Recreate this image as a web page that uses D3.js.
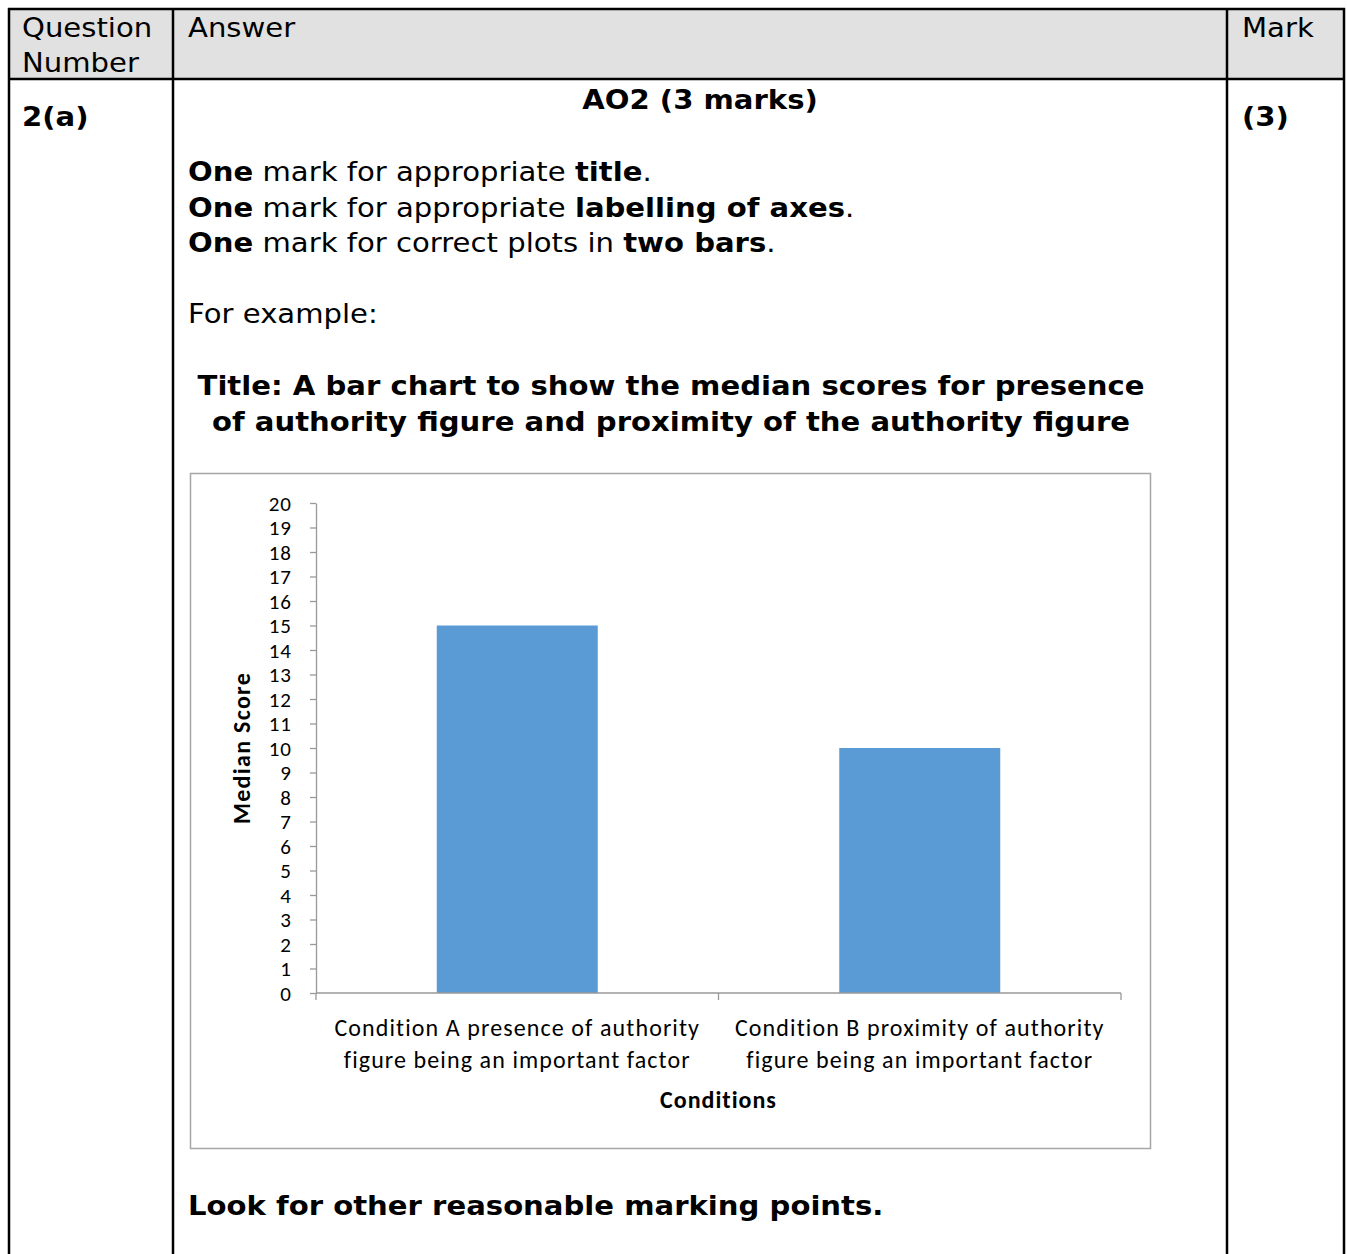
<!DOCTYPE html>
<html>
<head>
<meta charset="utf-8">
<script src="https://cdn.jsdelivr.net/npm/d3@7"></script>
<style>
  body { margin: 0; background: #fff; }
  svg { display: block; }
  .doc { font-family: "DejaVu Sans", Verdana, sans-serif; fill: #000; }
  .chart text { font-family: Carlito, Lato, "Open Sans", sans-serif; fill: #000; }
</style>
</head>
<body>
<svg id="page" width="1347" height="1254"></svg>
<script>
// chart data
var categories = [
  ["Condition A presence of authority", "figure being an important factor"],
  ["Condition B proximity of authority", "figure being an important factor"]
];
var medians = [15, 10];
var yTicks = d3.range(0, 21);

var svg = d3.select("#page");

// table frame
var tbl = svg.append("g");
tbl.append("rect").attr("x", 9).attr("y", 9).attr("width", 1336).attr("height", 70).attr("fill", "#e1e1e1");
var lines = [
  [9, 8, 9, 1254], [173, 8, 173, 1254], [1227, 8, 1227, 1254], [1344, 8, 1344, 1254],
  [8, 9, 1345, 9], [8, 79, 1345, 79]
];
tbl.selectAll("line").data(lines).enter().append("line")
  .attr("x1", d => d[0]).attr("y1", d => d[1]).attr("x2", d => d[2]).attr("y2", d => d[3])
  .attr("stroke", "#000").attr("stroke-width", 2.5);

// Verdana-like text: DejaVu Sans stretched a little wider
var doc = svg.append("g").attr("class", "doc").style("font-size", "26px");
function put(x, y, txt, bold, anchor) {
  return doc.append("text")
    .attr("transform", "translate(" + x + "," + y + ") scale(1.12,1)")
    .attr("text-anchor", anchor || "start")
    .attr("font-weight", bold ? "bold" : "normal")
    .text(txt);
}
put(22, 37, "Question");
put(22, 72, "Number");
put(188, 37, "Answer");
put(1242, 37, "Mark");
put(22, 126, "2(a)", true);
put(1242, 126, "(3)", true);
put(700, 109, "AO2 (3 marks)", true, "middle");

var bullets = [
  [["One", true], [" mark for appropriate ", false], ["title", true], [".", false]],
  [["One", true], [" mark for appropriate ", false], ["labelling of axes", true], [".", false]],
  [["One", true], [" mark for correct plots in ", false], ["two bars", true], [".", false]]
];
bullets.forEach(function (parts, i) {
  var t = put(188, 181 + i * 35.5, "");
  parts.forEach(function (p) {
    t.append("tspan").attr("font-weight", p[1] ? "bold" : "normal").text(p[0]);
  });
});
put(188, 323, "For example:");
put(671, 395, "Title: A bar chart to show the median scores for presence", true, "middle");
put(671, 431, "of authority figure and proximity of the authority figure", true, "middle");
put(188, 1215, "Look for other reasonable marking points.", true);

// chart
var chart = svg.append("g").attr("class", "chart");
chart.append("rect").attr("x", 190.5).attr("y", 473.5).attr("width", 960).attr("height", 675)
  .attr("fill", "#fff").attr("stroke", "#a6a6a6").attr("stroke-width", 1.5);

var x0 = 316, x1 = 1121, yBottom = 993, yTop = 503;
var x = d3.scaleBand().domain(d3.range(categories.length)).range([x0, x1]).paddingInner(0.6).paddingOuter(0.3);
var y = d3.scaleLinear().domain([0, 20]).range([yBottom, yTop]);

chart.selectAll("rect.bar").data(medians).enter().append("rect").attr("class", "bar")
  .attr("x", (d, i) => x(i)).attr("width", x.bandwidth())
  .attr("y", d => y(d)).attr("height", d => y(0) - y(d))
  .attr("fill", "#5b9bd5");

var yAxis = chart.append("g").attr("transform", "translate(" + x0 + ",0)")
  .call(d3.axisLeft(y).tickValues(yTicks).tickSize(6).tickSizeOuter(0).tickPadding(18));
yAxis.selectAll("line, path").attr("stroke", "#999").attr("stroke-width", 1.3);
yAxis.selectAll("text").style("font-size", "21px").style("letter-spacing", "1px").attr("dy", "0.35em");

// x axis with boundary ticks
var xAxis = chart.append("g");
xAxis.append("line").attr("x1", x0).attr("x2", x1).attr("y1", yBottom).attr("y2", yBottom)
  .attr("stroke", "#999").attr("stroke-width", 1.3);
var step = (x1 - x0) / categories.length;
xAxis.selectAll("line.tk").data(d3.range(categories.length + 1)).enter().append("line").attr("class", "tk")
  .attr("x1", d => x0 + d * step).attr("x2", d => x0 + d * step)
  .attr("y1", yBottom).attr("y2", yBottom + 7)
  .attr("stroke", "#999").attr("stroke-width", 1.3);

categories.forEach(function (c, i) {
  var cx = x(i) + x.bandwidth() / 2;
  c.forEach(function (ln, j) {
    chart.append("text").attr("x", cx).attr("y", 1036 + j * 32).attr("text-anchor", "middle")
      .style("font-size", "24px").style("letter-spacing", "1.1px").text(ln);
  });
});

chart.append("text").attr("x", (x0 + x1) / 2).attr("y", 1108).attr("text-anchor", "middle")
  .style("font-size", "24px").style("letter-spacing", "1px").attr("font-weight", "bold").text("Conditions");
chart.append("text").attr("transform", "translate(250," + y(10) + ") rotate(-90)")
  .attr("text-anchor", "middle").style("font-size", "24px").style("letter-spacing", "1.3px")
  .attr("font-weight", "bold").text("Median Score");
</script>
</body>
</html>
